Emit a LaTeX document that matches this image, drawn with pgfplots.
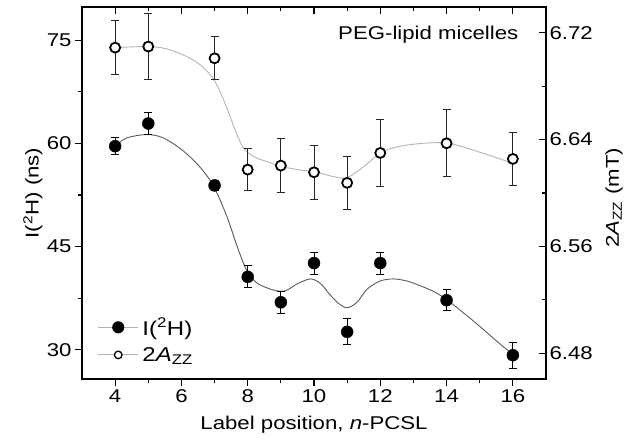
\documentclass[border=0pt]{standalone}
\usepackage{pgfplots}
\pgfplotsset{compat=1.18}
\usepackage{pgfplotstable}
\usepackage{fontspec}
\setmainfont{Liberation Sans}[FakeStretch=1.2]
\definecolor{fitdark}{HTML}{5A5A5A}
\definecolor{fitlight}{HTML}{B4B4B4}

\pgfplotstableread{
x y ey
4 59.6 1.2
5 62.9 1.6
7 53.9 0.7
8 40.6 1.6
9 36.9 1.6
10 42.6 1.6
11 32.6 1.9
12 42.6 1.6
14 37.2 1.5
16 29.2 1.9
}\lifetime

\pgfplotstableread{
x y ey
4 6.7088 0.020
5 6.7096 0.025
7 6.7008 0.016
8 6.6175 0.016
9 6.6205 0.020
10 6.6155 0.020
11 6.6076 0.020
12 6.6300 0.025
14 6.6372 0.025
16 6.6255 0.020
}\azz

\pgfplotstableread{
x y
4 59.6
4.35 60.8
4.96 61.3
5.46 60.8
6.06 58.9
6.57 56.5
6.97 53.8
7.37 49.4
7.68 45.05
7.98 41.4
8.28 39.7
8.69 38.8
8.99 38.5
9.2 38.7
9.5 39.6
9.9 40.3
10.2 39.6
10.5 37.9
10.75 36.7
11.0 36.1
11.3 36.9
11.6 38.8
12.0 40.0
12.4 40.3
12.8 40.0
13.1 39.5
13.6 38.5
14.0 37.3
14.5 35.4
15.0 33.4
15.5 31.3
16.0 29.3
}\lifefit

\pgfplotstableread{
x y
4 6.7088
5 6.7096
5.56 6.7078
6.17 6.7020
6.57 6.6958
6.92 6.6870
7.17 6.6758
7.43 6.6597
7.68 6.6434
7.88 6.6335
8.18 6.6272
8.59 6.6234
9.04 6.6197
9.59 6.6172
10.0 6.6160
10.6 6.6122
11.0 6.6115
11.5 6.6197
12.0 6.6300
12.5 6.6345
13.0 6.6365
13.5 6.6375
14.0 6.6375
14.5 6.6345
15.0 6.6305
15.5 6.6265
16.0 6.6222
}\azzfit

\begin{document}
\begin{tikzpicture}[font=\fontsize{18.5}{22}\selectfont]
\pgfplotsset{
  common/.style={
    scale only axis, width=464pt, height=372pt,
    xmin=3, xmax=17,
    axis line style={line width=1.3pt},
    every tick/.style={black, line width=1.1pt},
    major tick length=7pt, minor tick length=4pt,
    xtick={4,6,...,16}, minor xtick={5,7,...,15},
    /pgf/number format/assume math mode=true,
    tick label style={font=\fontsize{18.5}{22}\selectfont},
    label style={font=\fontsize{18.5}{22}\selectfont},
  }
}
\begin{axis}[
  common,
  ymin=25.74, ymax=79.85,
  ytick={30,45,60,75}, minor ytick={37.5,52.5,67.5},
  xtick pos=bottom, ytick pos=left, tick align=outside,
  xlabel={Label position, \textit{n}-PCSL},
  ylabel={I(\textsuperscript{2}H) (ns)},
  xlabel style={at={(axis description cs:0.5,-0.124)}, anchor=center},
  ylabel style={at={(axis description cs:-0.1056,0.5)}, anchor=center},
]
\addplot[fitdark, line width=0.9pt, smooth] table[x=x,y=y] {\lifefit};
\addplot[only marks, mark=*, mark size=6pt, black,
  error bars/.cd, y dir=both, y explicit,
  error bar style={line width=1pt, black},
  error mark options={rotate=90, mark size=4pt, line width=1pt, black}]
  table[x=x, y=y, y error=ey] {\lifetime};
\end{axis}

\begin{axis}[
  common,
  ymin=6.4608, ymax=6.7392,
  ytick={6.48,6.56,6.64,6.72}, yticklabels={6.48,6.56,6.64,6.72},
  minor ytick={6.52,6.60,6.68},
  xtick pos=top, ytick pos=right, tick align=inside,
  xticklabels={}, yticklabel pos=right,
  ylabel={2\textit{A}\textsubscript{ZZ} (mT)},
  ylabel style={at={(axis description cs:1.1466,0.487)}, anchor=center},
  legend style={at={(axis description cs:0.0336,0.038)}, anchor=south west,
    draw=none, fill=none, row sep=6.5pt, inner sep=0pt,
    font=\fontsize{20}{24}\selectfont},
  legend cell align=left,
]
\addplot[fitlight, line width=0.9pt, smooth, forget plot] table[x=x,y=y] {\azzfit};
\addplot[only marks, mark=*, mark size=5pt, black, mark options={fill=white, line width=1.8pt},
  forget plot,
  error bars/.cd, y dir=both, y explicit,
  error bar style={line width=1pt, black!85},
  error mark options={rotate=90, mark size=4pt, line width=1pt, black!85}]
  table[x=x, y=y, y error=ey] {\azz};
\addlegendimage{legend image code/.code={
  \draw[fitlight, line width=0.9pt] (0pt,0pt) -- (40pt,0pt);
  \fill[black] (20pt,0pt) circle (5.8pt);
  \path (42pt,0pt);}}
\addlegendentry{I(\textsuperscript{2}H)}
\addlegendimage{legend image code/.code={
  \draw[fitlight, line width=0.9pt] (0pt,0pt) -- (40pt,0pt);
  \draw[black, line width=1.3pt, fill=white] (20pt,0pt) circle (3.8pt);
  \path (42pt,0pt);}}
\addlegendentry{2\textit{A}\textsubscript{ZZ}}
\node[anchor=east] at (rel axis cs:0.948,0.925) {PEG-lipid micelles};
\end{axis}
\pgfresetboundingbox
\path[use as bounding box] (-82pt,-60pt) rectangle (544pt,379pt);
\end{tikzpicture}
\end{document}
